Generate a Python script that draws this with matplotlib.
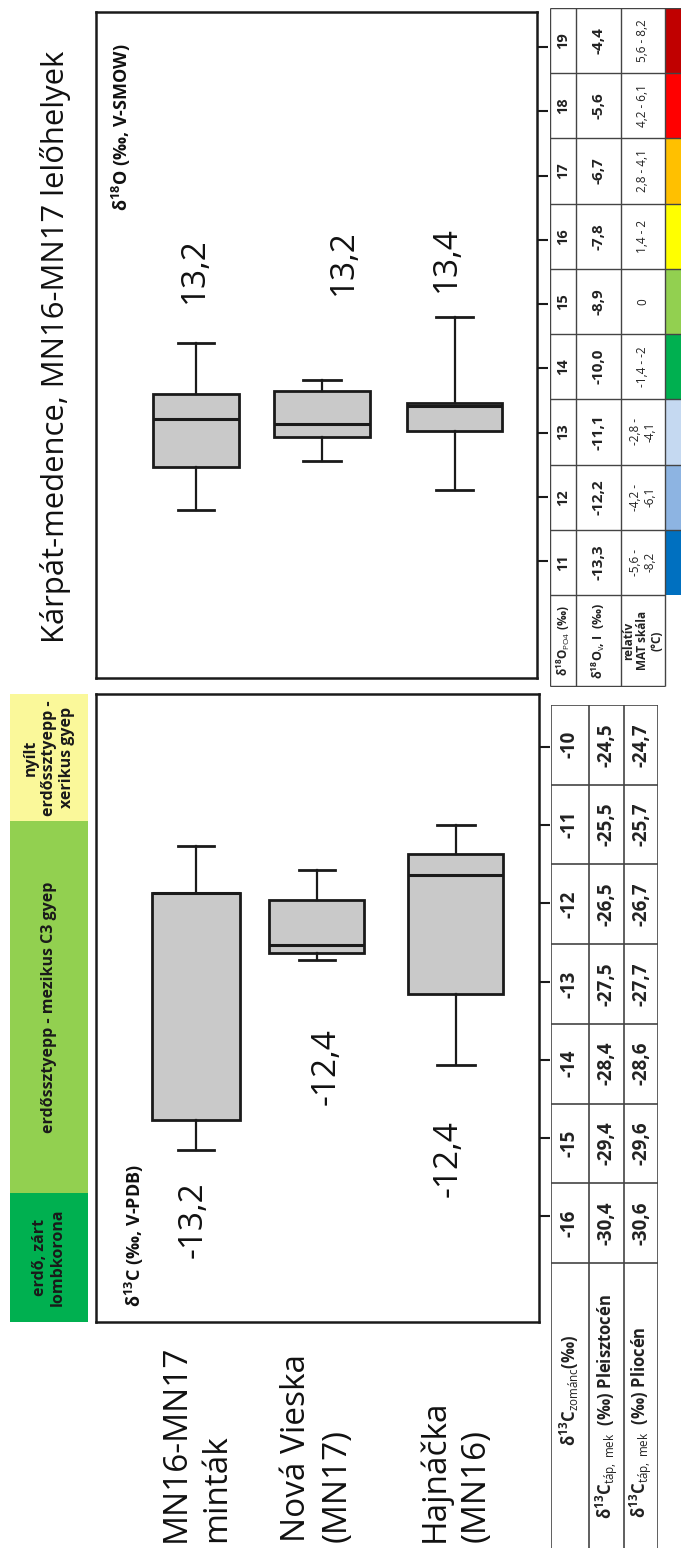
import matplotlib
matplotlib.use("Agg")
import matplotlib.pyplot as plt
from matplotlib.transforms import blended_transform_factory

plt.rcParams['font.family'] = ['Open Sans', 'DejaVu Sans']
plt.rcParams['mathtext.fontset'] = 'custom'
plt.rcParams['mathtext.rm'] = 'Open Sans'
plt.rcParams['mathtext.bf'] = 'Open Sans:bold'
plt.rcParams['mathtext.it'] = 'Open Sans:italic'
plt.rcParams['mathtext.default'] = 'regular'

# ---------------- data ----------------
groups = ["MN16-MN17\nminták", "Nová Vieska\n(MN17)", "Hajnáčka\n(MN16)"]

# delta 18O (upper panel)
o_whislo = [11.80, 12.56, 12.10]
o_q1 = [12.46, 12.93, 13.03]
o_med = [13.21, 13.13, 13.41]
o_q3 = [13.60, 13.64, 13.46]
o_whishi = [14.39, 13.82, 14.80]
o_labels = ["13,2", "13,2", "13,4"]

# delta 13C (lower panel)
c_whislo = [-15.15, -12.72, -14.07]
c_q1 = [-14.77, -12.64, -13.16]
c_med = [-11.87, -12.53, -11.64]
c_q3 = [-11.87, -11.96, -11.37]
c_whishi = [-11.27, -11.57, -11.00]
c_labels = ["-13,2", "-12,4", "-12,4"]

# upper table
o_ticks = [19, 18, 17, 16, 15, 14, 13, 12, 11]
o_water = ["-4,4", "-5,6", "-6,7", "-7,8", "-8,9", "-10,0", "-11,1", "-12,2", "-13,3"]
o_mat = ["5,6 - 8,2", "4,2 - 6,1", "2,8 - 4,1", "1,4 - 2", "0", "-1,4 - -2",
         "-2,8 -\n-4,1", "-4,2 -\n-6,1", "-5,6 -\n-8,2"]
o_colors = ["#C00000", "#FF0000", "#FFC000", "#FFFF00", "#92D050", "#00B050",
            "#C5D9F1", "#8DB4E2", "#0070C0"]

# lower table
c_ticks = [-10, -11, -12, -13, -14, -15, -16]
c_pleisto = ["-24,5", "-25,5", "-26,5", "-27,5", "-28,4", "-29,4", "-30,4"]
c_plio = ["-24,7", "-25,7", "-26,7", "-27,7", "-28,6", "-29,6", "-30,6"]

# vegetation zones (delta13C boundaries)
veg_names = ["erdő, zárt\nlombkorona", "erdőssztyepp - mezikus C3 gyep",
             "nyílt\nerdőssztyepp -\nxerikus gyep"]
veg_lo = [-17.36, -15.70, -10.95]
veg_hi = [-15.70, -10.95, -9.32]
veg_colors = ["#00B050", "#92D050", "#FAF89A"]

# ---------------- layout ----------------
W, H = 681, 1548
fig = plt.figure(figsize=(W / 100, H / 100), dpi=100)
fig.patch.set_facecolor("white")


def ax_px(x0, y0, x1, y1, **kw):
    return fig.add_axes([x0 / W, 1 - y1 / H, (x1 - x0) / W, (y1 - y0) / H], **kw)


EDGE = "#1a1a1a"
BOXFACE = "#C9C9C9"


def style_box_axes(ax):
    for s in ax.spines.values():
        s.set_linewidth(1.8)
        s.set_color(EDGE)
    ax.tick_params(axis='y', which='major', direction='out', length=8, width=1.5,
                   color=EDGE, left=False, right=True, labelleft=False, labelright=False)
    ax.tick_params(axis='x', bottom=False, labelbottom=False)


def stats(lo, q1, med, q3, hi):
    return [dict(whislo=a, q1=b, med=c, q3=d, whishi=e, fliers=[])
            for a, b, c, d, e in zip(lo, q1, med, q3, hi)]


box_kw = dict(patch_artist=True, showfliers=False,
              boxprops=dict(facecolor=BOXFACE, edgecolor=EDGE, linewidth=2.0),
              whiskerprops=dict(color=EDGE, linewidth=1.6),
              capprops=dict(color=EDGE, linewidth=2.0),
              medianprops=dict(color=EDGE, linewidth=2.2))

# ---- upper panel (delta 18O) ----
ax_o = ax_px(96.4, 12, 536.5, 678)
ax_o.bxp(stats(o_whislo, o_q1, o_med, o_q3, o_whishi), positions=[1, 1.975, 3],
         widths=[0.67, 0.74, 0.74], capwidths=[0.28, 0.29, 0.28], **box_kw)
ax_o.set_xlim(0.229, 3.634)
ax_o.set_ylim(9.179, 19.545)
ax_o.set_yticks(o_ticks)
style_box_axes(ax_o)
for x, y, t in zip([0.985, 2.137, 2.934], [15.53, 15.65, 15.70], o_labels):
    ax_o.text(x, y, t, rotation=90, ha='center', va='center', fontsize=24, color='#111111')
ax_o.text(0.056, 0.953, r"δ$^{18}$O (‰, V-SMOW)", transform=ax_o.transAxes, rotation=90,
          ha='center', va='top', fontsize=13, fontweight='bold', color='#111111')

# ---- lower panel (delta 13C) ----
ax_c = ax_px(96.4, 694, 538.7, 1322)
ax_c.bxp(stats(c_whislo, c_q1, c_med, c_q3, c_whishi), positions=[1, 1.93, 3],
         widths=[0.67, 0.73, 0.73], capwidths=[0.27, 0.28, 0.29], **box_kw)
ax_c.set_xlim(0.233, 3.639)
ax_c.set_ylim(-17.356, -9.32)
ax_c.set_yticks(c_ticks)
style_box_axes(ax_c)
for x, y, t in zip([0.977, 2.0, 2.94], [-16.04, -14.09, -15.27], c_labels):
    ax_c.text(x, y, t, rotation=90, ha='center', va='center', fontsize=24, color='#111111')
ax_c.text(0.086, 0.024, r"δ$^{13}$C (‰, V-PDB)", transform=ax_c.transAxes, rotation=90,
          ha='center', va='bottom', fontsize=13, fontweight='bold', color='#111111')

# group labels (below lower panel)
tr = blended_transform_factory(ax_c.transData, fig.transFigure)
for x, g in zip([1, 1.93, 3], groups):
    ax_c.text(x, 1 - 1542 / H, g, transform=tr, rotation=90, ha='center', va='bottom',
              multialignment='left', fontsize=24, linespacing=1.3, color='#111111',
              clip_on=False)

# ---- vegetation bar ----
ax_v = ax_px(9.6, 694, 88.2, 1322, sharey=ax_c)
ax_v.bar([0] * len(veg_lo), [h - l for l, h in zip(veg_lo, veg_hi)], bottom=veg_lo,
         width=1.0, color=veg_colors, edgecolor='none')
for l, h, n in zip(veg_lo, veg_hi, veg_names):
    ax_v.text(0.0, (l + h) / 2, n, rotation=90, ha='center', va='center', fontsize=11.5,
              fontweight='bold', color='#1a1a1a', linespacing=1.2, multialignment='center')
ax_v.set_xlim(-0.5, 0.5)
ax_v.axis('off')

# ---- upper table ----
ax_ot = ax_px(550, 8, 681, 687)
ax_ot.set_xlim(0, 131)
ax_ot.set_ylim(9.089, 19.5)
ax_ot.axis('off')
ocols = [0, 26, 71.2, 114.6, 131]
LC = '#444444'
ax_ot.barh(o_ticks, [ocols[4] - ocols[3]] * len(o_ticks), left=ocols[3], height=1.0,
           color=o_colors, edgecolor='none')
ax_ot.hlines([v + 0.5 for v in o_ticks] + [10.5, 9.1], 0, ocols[3], color=LC, lw=1.0)
ax_ot.hlines([v + 0.5 for v in o_ticks], ocols[3], 131, color=LC, lw=1.0)
ax_ot.vlines(ocols[:4], 9.1, 19.5, color=LC, lw=1.0)
for v, w, m in zip(o_ticks, o_water, o_mat):
    ax_ot.text((ocols[0] + ocols[1]) / 2, v, str(v), rotation=90, ha='center', va='center',
               fontsize=10.5, fontweight='bold', color='#222222')
    ax_ot.text((ocols[1] + ocols[2]) / 2, v, w, rotation=90, ha='center', va='center',
               fontsize=11, fontweight='bold', color='#222222')
    ax_ot.text((ocols[2] + ocols[3]) / 2, v, m, rotation=90, ha='center', va='center',
               fontsize=8.5, color='#222222', linespacing=1.2)
hy = (10.5 + 9.1) / 2
ax_ot.text((ocols[0] + ocols[1]) / 2, hy, r"δ$^{18}$O$_{\mathrm{PO4}}$ (‰)", rotation=90,
           ha='center', va='center', fontsize=8.5, fontweight='bold', color='#222222')
ax_ot.text((ocols[1] + ocols[2]) / 2, hy, r"δ$^{18}$O$_{\mathrm{v}}$, I  (‰)", rotation=90,
           ha='center', va='center', fontsize=9, fontweight='bold', color='#222222')
ax_ot.text((ocols[2] + ocols[3]) / 2, hy, "relatív\nMAT skála\n(°C)", rotation=90,
           ha='center', va='center', fontsize=8.5, fontweight='bold', color='#222222',
           linespacing=1.15)

# ---- lower table ----
ax_ct = ax_px(551, 705, 658, 1548)
ax_ct.set_xlim(0, 107)
ax_ct.set_ylim(-20.075, -9.5)
ax_ct.axis('off')
ccols = [0, 37.6, 73.2, 107]
ax_ct.hlines([v + 0.5 for v in c_ticks] + [-16.5], 0, 107, color=LC, lw=1.2)
ax_ct.vlines(ccols, -20.075, -9.5, color=LC, lw=1.2)
for v, a, b in zip(c_ticks, c_pleisto, c_plio):
    ax_ct.text((ccols[0] + ccols[1]) / 2, v, str(v), rotation=90, ha='center', va='center',
               fontsize=13.5, fontweight='bold', color='#222222')
    ax_ct.text((ccols[1] + ccols[2]) / 2, v, a, rotation=90, ha='center', va='center',
               fontsize=13.5, fontweight='bold', color='#222222')
    ax_ct.text((ccols[2] + ccols[3]) / 2, v, b, rotation=90, ha='center', va='center',
               fontsize=13.5, fontweight='bold', color='#222222')
ax_ct.text((ccols[0] + ccols[1]) / 2, -18.1, r"δ$^{13}$C$_{\mathrm{zománc}}$(‰)", rotation=90,
           ha='center', va='center', fontsize=12, fontweight='bold', color='#222222')
ax_ct.text((ccols[1] + ccols[2]) / 2, -18.3, r"δ$^{13}$C$_{\mathrm{táp,\ mek}}$  (‰) Pleisztocén",
           rotation=90, ha='center', va='center', fontsize=12, fontweight='bold', color='#222222')
ax_ct.text((ccols[2] + ccols[3]) / 2, -18.5, r"δ$^{13}$C$_{\mathrm{táp,\ mek}}$  (‰) Pliocén",
           rotation=90, ha='center', va='center', fontsize=12, fontweight='bold', color='#222222')

# ---- title ----
fig.text(56 / W, 1 - 643 / H, "Kárpát-medence, MN16-MN17 lelőhelyek", rotation=90,
         ha='center', va='bottom', fontsize=22.3, color='#111111')

fig.savefig("out.png", dpi=100, facecolor='white')
